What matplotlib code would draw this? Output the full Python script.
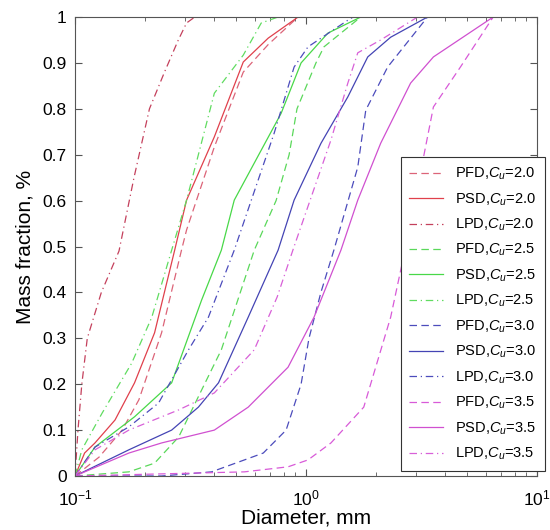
import matplotlib
matplotlib.use('Agg')
import matplotlib.pyplot as plt

plt.rcParams['font.family'] = ['Liberation Sans', 'DejaVu Sans']
plt.rcParams['mathtext.fontset'] = 'custom'
plt.rcParams['mathtext.rm'] = 'Liberation Sans'
plt.rcParams['mathtext.it'] = 'Liberation Sans:italic'

# Cu = 2.0
pfd20_x = [0.1, 0.127, 0.16, 0.189, 0.237, 0.289, 0.304, 0.401, 0.535, 0.686, 0.924]
pfd20_y = [0.0, 0.041, 0.10, 0.166, 0.312, 0.492, 0.536, 0.717, 0.88, 0.94, 1.0]
psd20_x = [0.1, 0.11, 0.122, 0.149, 0.181, 0.221, 0.27, 0.304, 0.401, 0.535, 0.686, 0.924]
psd20_y = [0.0, 0.05, 0.072, 0.122, 0.203, 0.312, 0.492, 0.601, 0.739, 0.902, 0.954, 1.0]
lpd20_x = [0.1, 0.103, 0.107, 0.113, 0.13, 0.155, 0.18, 0.21, 0.244, 0.28, 0.304, 0.33, 0.4]
lpd20_y = [0.0, 0.1, 0.2, 0.3, 0.4, 0.49, 0.65, 0.80, 0.88, 0.95, 0.987, 1.0, 1.0]

# Cu = 2.5
pfd25_x = [0.1, 0.171, 0.221, 0.281, 0.353, 0.43, 0.597, 0.742, 0.845, 0.914, 1.104, 1.196, 1.726]
pfd25_y = [0.0, 0.009, 0.028, 0.085, 0.187, 0.275, 0.492, 0.6, 0.7, 0.8, 0.9, 0.935, 1.0]
psd25_x = [0.1, 0.122, 0.181, 0.262, 0.353, 0.43, 0.489, 0.64, 0.78, 0.952, 1.244, 1.726]
psd25_y = [0.0, 0.063, 0.129, 0.203, 0.383, 0.492, 0.601, 0.71, 0.79, 0.90, 0.965, 1.0]
lpd25_x = [0.1, 0.107, 0.131, 0.176, 0.215, 0.262, 0.304, 0.401, 0.535, 0.64, 0.757]
lpd25_y = [0.0, 0.057, 0.137, 0.246, 0.346, 0.492, 0.601, 0.834, 0.917, 0.987, 1.0]

# Cu = 3.0
pfd30_x = [0.1, 0.237, 0.39, 0.541, 0.653, 0.82, 0.952, 1.03, 1.16, 1.32, 1.675, 1.814, 2.256, 3.357]
pfd30_y = [0.0, 0.0, 0.009, 0.035, 0.05, 0.10, 0.2, 0.3, 0.4, 0.492, 0.673, 0.797, 0.891, 1.0]
psd30_x = [0.1, 0.171, 0.262, 0.342, 0.418, 0.562, 0.757, 0.888, 1.161, 1.517, 1.85, 2.325, 3.357]
psd30_y = [0.0, 0.057, 0.10, 0.15, 0.203, 0.346, 0.492, 0.601, 0.725, 0.826, 0.913, 0.956, 1.0]
lpd30_x = [0.1, 0.122, 0.171, 0.23, 0.31, 0.378, 0.489, 0.728, 0.888, 1.02, 1.517, 1.6]
lpd30_y = [0.0, 0.063, 0.107, 0.159, 0.275, 0.346, 0.492, 0.747, 0.891, 0.935, 0.993, 1.0]

# Cu = 3.5
pfd35_x = [0.1, 0.541, 0.836, 1.02, 1.282, 1.778, 2.325, 2.7, 3.227, 3.56, 4.66, 6.46]
pfd35_y = [0.0, 0.009, 0.02, 0.035, 0.072, 0.15, 0.346, 0.499, 0.695, 0.804, 0.891, 1.0]
psd35_x = [0.1, 0.171, 0.237, 0.401, 0.562, 0.836, 1.083, 1.416, 1.675, 2.105, 2.836, 3.56, 6.46]
psd35_y = [0.0, 0.05, 0.072, 0.10, 0.15, 0.237, 0.346, 0.492, 0.601, 0.725, 0.856, 0.913, 1.0]
lpd35_x = [0.1, 0.122, 0.171, 0.281, 0.401, 0.597, 0.75, 0.888, 1.282, 1.517, 1.675, 2.105, 3.04]
lpd35_y = [0.0, 0.057, 0.10, 0.144, 0.181, 0.275, 0.39, 0.50, 0.732, 0.856, 0.922, 0.95, 1.0]

cu_values = ['2.0', '2.5', '3.0', '3.5']
series = [
    (pfd20_x, pfd20_y, psd20_x, psd20_y, lpd20_x, lpd20_y),
    (pfd25_x, pfd25_y, psd25_x, psd25_y, lpd25_x, lpd25_y),
    (pfd30_x, pfd30_y, psd30_x, psd30_y, lpd30_x, lpd30_y),
    (pfd35_x, pfd35_y, psd35_x, psd35_y, lpd35_x, lpd35_y),
]
colors = [('#dc6478', '#e0404c', '#c4405c'),
          ('#5ad85a', '#48d848', '#60dc60'),
          ('#4c4cbc', '#4444b4', '#4c4cbc'),
          ('#d85ad8', '#d050d0', '#d860d8')]

fig = plt.figure(figsize=(5.5, 5.3), dpi=100)
ax = fig.add_axes([0.1364, 0.1019, 0.8400, 0.866])

dash = (0, (6, 3.5))
dashdot = (0, (6, 3, 1, 3))
for cu, s, c in zip(cu_values, series, colors):
    ax.plot(s[0], s[1], linestyle=dash, color=c[0], lw=0.9, label='PFD,$C_u$=' + cu)
    ax.plot(s[2], s[3], linestyle='-', color=c[1], lw=0.9, label='PSD,$C_u$=' + cu)
    ax.plot(s[4], s[5], linestyle=dashdot, color=c[2], lw=0.9, label='LPD,$C_u$=' + cu)

ax.set_xscale('log')
ax.set_xlim(0.1, 10)
ax.set_ylim(0, 1)
ax.set_yticks([0, 0.1, 0.2, 0.3, 0.4, 0.5, 0.6, 0.7, 0.8, 0.9, 1])
ax.set_yticklabels(['0', '0.1', '0.2', '0.3', '0.4', '0.5', '0.6', '0.7', '0.8', '0.9', '1'])
ax.tick_params(which='both', direction='in', top=True, right=True, labelsize=12.5, color='#555555')
ax.tick_params(which='major', length=5)
ax.tick_params(which='minor', length=3)
ax.tick_params(axis='x', which='major', pad=9)
ax.tick_params(axis='y', which='major', pad=6)
for sp in ax.spines.values():
    sp.set_color('#555555')

ax.set_xlabel('Diameter, mm', fontsize=15, labelpad=0)
ax.set_ylabel('Mass fraction, %', fontsize=15, labelpad=6)

leg = ax.legend(loc='upper left', bbox_to_anchor=(0.705, 0.695), fontsize=10.5,
                labelspacing=0.62, handlelength=2.3, borderaxespad=0, fancybox=False,
                framealpha=1, edgecolor='#333333', borderpad=0.6)
leg.get_frame().set_linewidth(0.8)

fig.savefig('out.png', dpi=100)
